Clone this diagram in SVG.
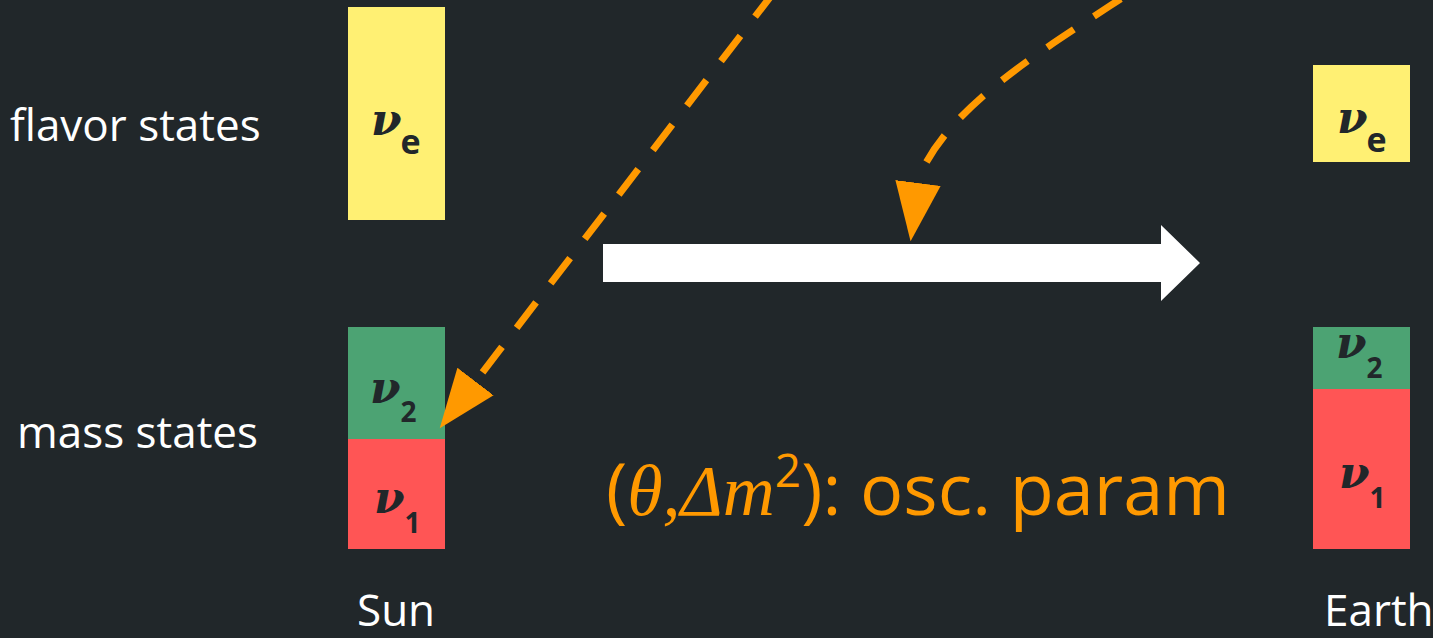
<svg xmlns="http://www.w3.org/2000/svg" width="1433" height="638" viewBox="0 0 1433 638">
<style>
.lbl{font-family:"Open Sans","Liberation Sans",sans-serif;font-size:44px;fill:#ffffff}
.nu{font-family:"DejaVu Serif","Liberation Serif",serif;font-style:italic;font-weight:bold;font-size:44px;fill:#21272a}
.sub{font-family:"Open Sans","Liberation Sans",sans-serif;font-style:normal;font-weight:bold;font-size:34px}
.dig{font-family:"Open Sans","Liberation Sans",sans-serif;font-style:normal;font-weight:bold;font-size:28px}
.yel{fill:#fff073}
.grn{fill:#4ca373}
.red{fill:#ff5555}
.dash{fill:none;stroke:#ff9900;stroke-width:7;stroke-dasharray:32 24}
.osc{font-family:"Open Sans","Liberation Sans",sans-serif;font-size:72px;fill:#ff9900}
.math{font-family:"Liberation Serif","Times New Roman",serif;font-style:italic}
</style>
<defs>
<marker id="ah" markerUnits="userSpaceOnUse" markerWidth="60" markerHeight="60" viewBox="0 -20 50 40" refX="0" refY="0" orient="auto">
<path d="M0,-19 L49,0 L0,19 z" fill="#ff9900"/>
</marker>
</defs>
<rect width="1433" height="638" fill="#21272a"/>

<g id="row-labels">
<text class="lbl" x="10" y="141">flavor states</text>
<text class="lbl" x="17" y="448">mass states</text>
<text class="lbl" x="357" y="626" font-size="42">Sun</text>
<text class="lbl" x="1324" y="626" font-size="42">Earth</text>
</g>

<g id="sun-flavor">
<rect class="yel" x="348" y="7" width="97" height="213"/>
<text class="nu" x="371" y="135">ν<tspan class="sub" dx="-1" dy="19">e</tspan></text>
</g>

<g id="sun-mass">
<rect class="grn" x="348" y="327" width="97" height="112"/>
<rect class="red" x="348" y="439" width="97" height="110"/>
<text class="nu" x="370" y="403">ν<tspan class="dig" dx="0" dy="19">2</tspan></text>
<text class="nu" x="374" y="513">ν<tspan class="dig" dx="0" dy="20">1</tspan></text>
</g>

<g id="earth-flavor">
<rect class="yel" x="1313" y="65" width="97" height="97"/>
<text class="nu" x="1337" y="133">ν<tspan class="sub" dx="-1" dy="19">e</tspan></text>
</g>

<g id="earth-mass">
<rect class="grn" x="1313" y="327" width="97" height="62"/>
<rect class="red" x="1313" y="389" width="97" height="160"/>
<text class="nu" x="1336" y="358">ν<tspan class="dig" dx="0" dy="20">2</tspan></text>
<text class="nu" x="1339" y="488">ν<tspan class="dig" dx="0" dy="20">1</tspan></text>
</g>

<g id="connectors">
<polygon points="603,244 1161,244 1161,225 1200,263 1161,301 1161,282 603,282" fill="#ffffff"/>
<path class="dash" d="M779.7,-15.4 L475.5,381.5" stroke-dashoffset="47.5" marker-end="url(#ah)"/>
<path class="dash" d="M1125,-4 C1040,52 950,105 918.7,177.5 L918,183" stroke-dashoffset="51" marker-end="url(#ah)"/>
</g>

<g id="osc-label">
<text class="osc" x="606" y="515">(<tspan class="math">θ,Δm</tspan><tspan font-size="46" dy="-28">2</tspan><tspan dy="28">): osc. param</tspan></text>
</g>
</svg>
